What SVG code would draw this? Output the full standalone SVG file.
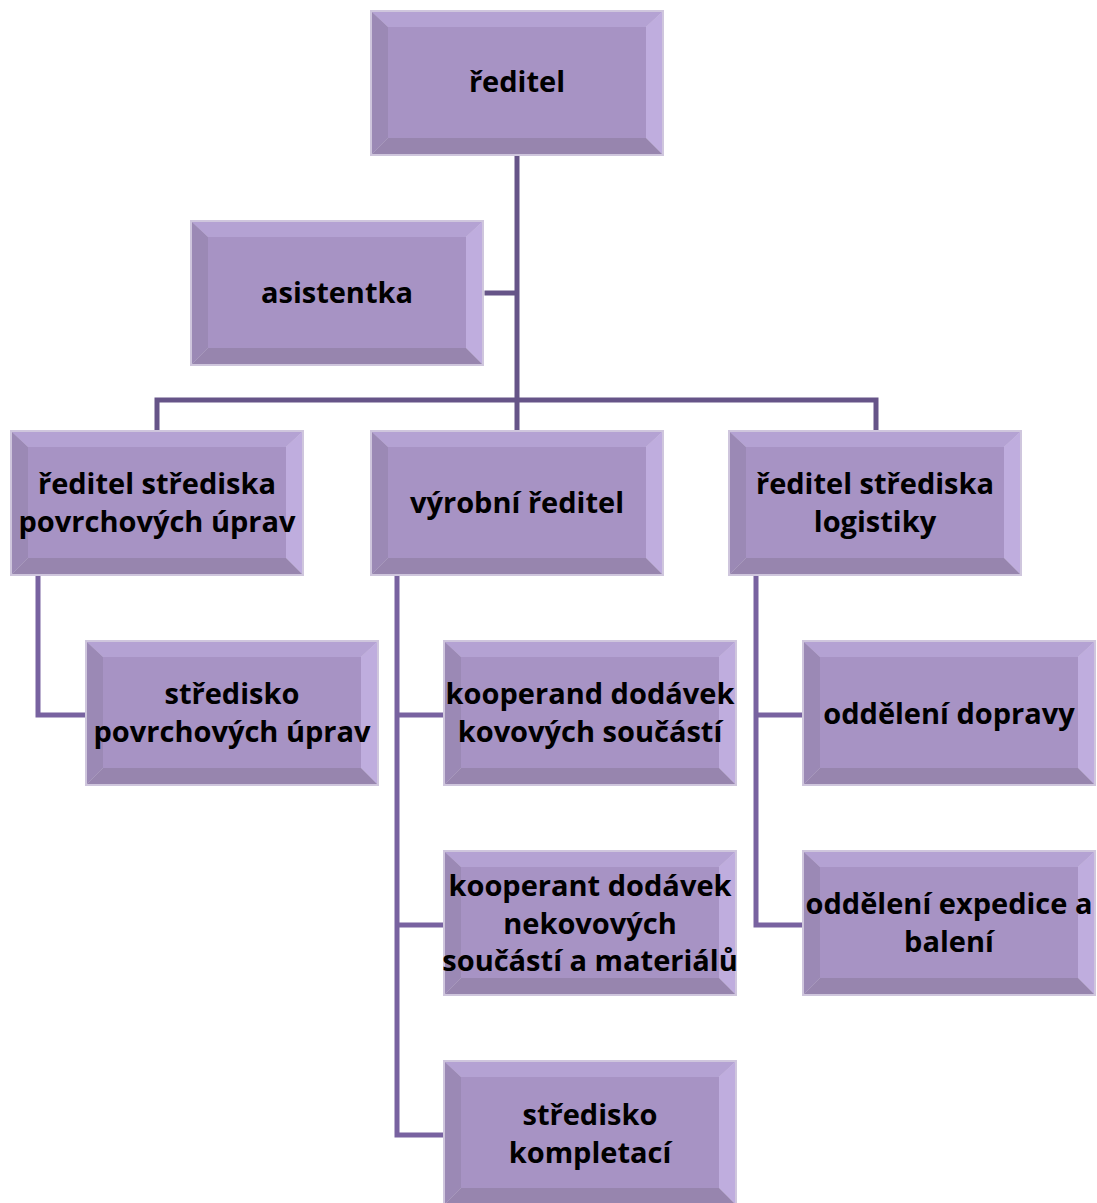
<svg xmlns="http://www.w3.org/2000/svg" xmlns:xlink="http://www.w3.org/1999/xlink" width="1097" height="1203" viewBox="0 0 1097 1203">
<style>
.c1{stroke:#665488;stroke-width:5;fill:none;stroke-linecap:square}
.c2{stroke:#7862a0;stroke-width:5;fill:none;stroke-linecap:square}
.t{font-family:"Open Sans",Lato,"Liberation Sans",sans-serif;font-weight:bold;font-size:29px;fill:#000;text-anchor:middle}
</style>
<defs>
<g id="box">
<rect x="0" y="0" width="294" height="146" fill="#cfc6dd"/>
<polygon points="2,2 292,2 276,17 18,17" fill="#b4a2d3"/>
<polygon points="2,2 18,17 18,128 2,144" fill="#9b89b5"/>
<polygon points="292,2 292,144 276,128 276,17" fill="#bfadde"/>
<polygon points="2,144 18,128 276,128 292,144" fill="#9785ae"/>
<rect x="18" y="17" width="258" height="111" fill="#a793c4"/>
</g>
</defs>
<rect width="1097" height="1203" fill="#fff"/>
<g id="connectors">
<path class="c1" d="M517,155 V430 M487,293 H517 M157,400 H876 M157,400 V430 M876,400 V430"/>
<path class="c2" d="M38,575 V715 H85 M397,575 V1135 H443 M397,715 H443 M397,925 H443 M756,575 V925 H802 M756,715 H802"/>
</g>
<g id="n-reditel"><use xlink:href="#box" x="370" y="10"/><text class="t" x="517" y="92">ředitel</text></g>
<g id="n-asistentka"><use xlink:href="#box" x="190" y="220"/><text class="t" x="337" y="303">asistentka</text></g>
<g id="n-povrch-reditel"><use xlink:href="#box" x="10" y="430"/><text class="t" x="157" y="494">ředitel střediska</text><text class="t" x="157" y="532">povrchových úprav</text></g>
<g id="n-vyrobni"><use xlink:href="#box" x="370" y="430"/><text class="t" x="517" y="513">výrobní ředitel</text></g>
<g id="n-logistika"><use xlink:href="#box" x="728" y="430"/><text class="t" x="875" y="494">ředitel střediska</text><text class="t" x="875" y="532">logistiky</text></g>
<g id="n-povrch"><use xlink:href="#box" x="85" y="640"/><text class="t" x="232" y="704">středisko</text><text class="t" x="232" y="742">povrchových úprav</text></g>
<g id="n-kooperand"><use xlink:href="#box" x="443" y="640"/><text class="t" x="590" y="704">kooperand dodávek</text><text class="t" x="590" y="742">kovových součástí</text></g>
<g id="n-doprava"><use xlink:href="#box" x="802" y="640"/><text class="t" x="949" y="724">oddělení dopravy</text></g>
<g id="n-kooperant"><use xlink:href="#box" x="443" y="850"/><text class="t" x="590" y="896">kooperant dodávek</text><text class="t" x="590" y="934">nekovových</text><text class="t" x="590" y="971">součástí a materiálů</text></g>
<g id="n-expedice"><use xlink:href="#box" x="802" y="850"/><text class="t" x="949" y="914">oddělení expedice a</text><text class="t" x="949" y="952">balení</text></g>
<g id="n-kompletace"><use xlink:href="#box" x="443" y="1060"/><text class="t" x="590" y="1125">středisko</text><text class="t" x="590" y="1163">kompletací</text></g>
</svg>
